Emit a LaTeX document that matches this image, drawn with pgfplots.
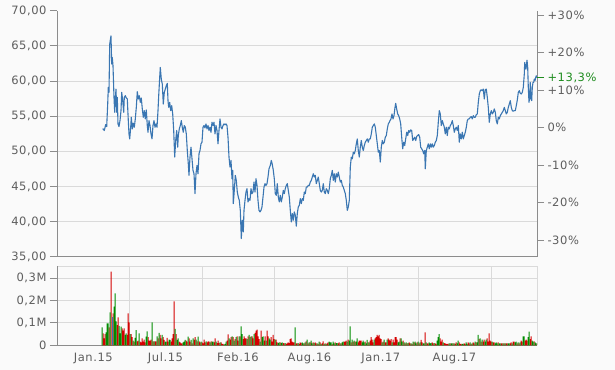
\documentclass[border=0pt]{standalone}
\usepackage{fontspec}
\setmainfont{DejaVu Sans}[LetterSpace=5.0]
\usepackage{pgfplots}
\usepackage{pgfplotstable}
\pgfplotsset{compat=1.18}
\definecolor{bg}{HTML}{FAFAFA}
\definecolor{gridc}{HTML}{DADADA}
\definecolor{axc}{HTML}{8C8C8C}
\definecolor{lab}{HTML}{5E5E5E}
\definecolor{pline}{HTML}{3A76B2}
\definecolor{vred}{HTML}{D40000}
\definecolor{vgreen}{HTML}{008C00}
\definecolor{pctgreen}{HTML}{1E8C1E}

\pgfplotstableread{
x y
102.7 53.23
104.3 52.95
105.7 53.80
106.7 53.51
107.7 56.72
108.3 59.09
109.0 58.38
109.7 65.23
110.7 66.18
111.0 66.42
111.7 62.40
112.3 63.34
113.0 62.16
114.0 57.67
114.7 55.55
115.3 57.44
116.0 58.85
116.7 55.55
117.3 57.67
118.0 53.89
119.0 53.51
120.0 54.36
121.0 55.78
121.7 58.38
122.7 57.20
123.7 55.55
124.3 57.67
125.3 57.91
126.3 57.58
127.3 57.44
128.3 54.36
129.0 52.47
129.7 51.76
130.7 53.42
131.3 54.84
132.3 53.18
133.3 53.99
134.3 53.42
135.3 54.60
136.3 56.25
137.3 58.48
138.3 57.44
139.3 57.91
140.3 56.96
141.3 57.58
142.3 56.02
143.3 54.84
144.3 55.78
145.3 54.60
146.3 55.88
147.3 53.66
148.0 52.71
149.0 54.36
150.0 53.66
151.0 52.47
152.0 51.76
153.0 53.66
154.0 54.36
155.0 53.42
156.0 53.89
157.0 53.42
158.0 55.78
158.7 57.91
159.7 60.51
160.3 61.93
161.3 60.27
162.3 59.56
163.3 56.72
164.3 58.38
165.3 58.85
166.3 59.33
167.3 59.66
168.0 57.20
168.7 56.25
169.7 56.96
170.7 55.78
171.7 56.49
172.7 55.31
173.7 52.95
174.7 49.17
175.7 51.53
176.7 52.95
177.7 50.58
178.3 52.24
179.3 53.18
180.3 53.66
181.3 54.36
182.3 53.42
183.3 52.71
184.3 53.66
185.3 53.42
186.3 52.47
187.3 50.11
188.3 48.22
189.0 46.57
190.0 49.17
191.0 50.58
192.0 48.93
193.0 47.28
194.0 46.80
195.0 43.97
196.0 46.80
197.0 47.98
198.0 46.80
199.0 49.64
200.0 50.11
201.0 51.06
202.0 51.29
203.0 53.42
204.0 53.66
205.0 53.32
206.0 53.89
207.0 53.18
208.0 53.66
209.0 52.95
210.0 53.42
211.0 52.71
212.0 54.13
213.0 53.66
214.0 54.13
215.0 52.47
216.0 53.66
217.0 52.95
218.0 51.06
219.0 52.95
220.0 54.60
221.0 53.42
222.0 53.18
223.0 53.66
224.0 53.89
225.0 53.75
226.0 53.89
227.0 53.66
228.0 52.00
229.0 49.17
230.0 47.75
231.0 48.69
232.0 46.09
232.7 47.28
233.3 42.55
234.3 44.44
235.3 46.57
236.3 45.86
237.3 44.20
238.3 43.49
239.3 43.02
240.3 41.60
241.3 37.59
242.3 40.19
243.3 38.53
244.0 41.60
245.0 43.02
246.0 44.20
247.0 44.68
248.0 42.79
249.0 43.26
250.0 43.02
251.0 44.68
252.0 43.97
253.0 44.20
254.0 45.62
255.0 44.20
256.0 46.09
257.0 45.15
258.0 43.02
259.0 41.60
260.0 41.37
261.0 41.60
262.0 42.08
263.0 43.49
264.0 44.91
265.0 45.39
266.0 45.15
267.0 45.39
268.0 46.33
269.0 47.51
270.3 47.98
271.3 48.69
272.3 48.13
273.3 47.28
274.3 46.09
275.3 43.97
276.3 43.73
277.3 45.39
278.3 43.49
279.3 42.79
280.3 43.73
281.3 42.79
282.3 43.49
283.3 44.44
284.3 43.97
285.3 44.68
286.3 45.15
287.3 45.39
288.3 44.44
289.3 43.49
290.3 41.60
291.3 39.95
292.3 41.13
293.3 40.19
294.3 41.37
295.3 40.90
296.3 39.34
297.3 41.13
298.3 42.08
299.3 42.31
300.3 43.26
301.3 42.55
302.3 43.26
303.3 43.02
304.3 44.20
305.3 43.97
306.3 44.91
307.3 44.91
308.3 45.15
309.3 45.15
310.3 45.62
311.3 45.86
312.3 46.33
313.3 46.80
314.3 46.33
315.3 46.57
316.3 45.39
317.3 45.86
318.3 46.33
319.3 45.39
320.3 44.44
321.3 44.20
322.3 44.44
323.3 45.39
324.3 44.20
325.3 43.97
326.3 44.68
327.3 44.44
328.3 43.97
329.3 44.68
330.3 46.09
331.3 46.57
332.3 47.28
333.3 45.86
334.3 46.80
335.3 45.62
336.3 46.80
337.3 46.33
338.3 47.04
339.3 46.33
340.3 45.62
341.3 45.86
342.3 45.15
343.3 44.91
344.3 44.44
345.3 43.97
346.3 43.02
347.3 41.60
348.3 42.08
349.3 43.02
350.3 47.75
351.3 49.17
352.3 48.93
353.3 49.87
354.3 49.64
355.3 50.11
356.3 51.06
357.3 51.76
358.3 50.11
359.3 49.17
360.3 50.58
361.3 51.53
362.3 50.58
363.3 50.11
364.3 50.82
365.3 51.29
366.3 51.53
367.3 51.76
368.3 51.29
369.3 51.76
370.3 51.76
371.3 52.47
372.3 53.42
373.3 53.66
374.3 53.89
375.3 53.42
376.3 52.24
377.3 51.06
378.3 49.87
379.3 50.11
380.3 48.46
381.3 50.58
382.3 51.53
383.3 51.06
384.3 51.29
385.3 52.00
386.3 52.24
387.3 53.18
388.3 53.89
389.3 54.13
390.0 54.36
391.0 54.60
392.0 55.31
393.0 54.60
394.0 55.07
395.0 56.25
395.7 56.82
396.7 56.02
397.7 55.31
398.7 55.07
399.7 54.60
400.7 53.89
401.7 52.00
402.7 50.35
403.7 51.29
404.7 50.82
405.7 51.76
406.7 52.71
407.7 52.24
408.7 52.95
409.7 52.71
410.7 53.04
411.7 52.95
412.7 51.53
413.7 51.76
414.7 52.00
415.7 51.53
416.7 52.10
417.7 52.24
418.7 52.38
419.7 52.00
420.7 50.58
421.7 50.35
422.7 50.11
423.7 49.64
424.7 50.11
425.3 47.51
426.3 50.11
427.3 50.58
428.3 51.06
429.3 50.35
430.3 51.06
431.3 50.58
432.3 51.06
433.3 50.58
434.3 50.82
435.3 51.29
436.3 51.53
437.3 52.24
438.3 54.13
439.3 55.78
440.3 55.31
441.3 53.66
442.3 54.36
443.3 53.89
444.3 53.42
445.3 52.47
446.3 53.42
447.3 52.24
448.3 53.42
449.3 53.18
450.3 53.66
451.3 53.89
452.3 54.36
453.3 53.66
454.3 52.71
455.3 53.18
456.3 53.42
457.3 52.95
458.3 53.66
459.3 51.29
460.3 52.47
461.3 51.76
462.3 52.71
463.3 51.76
464.3 52.24
465.3 52.71
466.3 53.42
467.3 54.36
468.3 54.60
469.3 54.60
470.3 54.84
471.3 54.93
472.3 54.60
473.3 55.07
474.3 54.84
475.3 54.84
476.3 55.21
477.3 55.31
478.3 56.96
479.3 58.15
480.3 58.62
481.3 58.76
482.3 58.62
483.3 58.85
484.3 57.44
485.3 58.76
486.3 58.85
487.3 57.67
488.3 56.25
489.3 54.13
490.3 55.31
491.3 55.78
492.3 55.31
493.3 55.55
494.3 56.02
495.3 55.55
496.3 54.36
497.3 53.89
498.3 54.84
499.3 54.60
500.3 55.07
501.3 55.31
502.3 55.55
503.3 55.78
504.3 56.25
505.3 55.78
506.3 55.31
507.3 55.55
508.3 56.25
509.3 56.72
510.3 57.20
511.3 56.25
512.3 55.78
513.3 55.69
514.3 55.78
515.3 55.78
516.3 56.49
517.3 57.29
518.3 58.38
519.3 58.62
520.3 58.24
521.3 58.15
522.3 58.38
523.3 59.09
524.3 60.98
524.7 62.63
525.3 62.16
526.0 61.69
527.0 62.97
527.7 61.93
528.3 59.09
529.0 56.96
529.7 57.67
530.3 59.80
531.0 57.44
531.7 57.20
532.3 59.09
533.0 59.80
533.7 59.80
534.3 60.27
535.0 60.04
535.7 60.51
536.3 60.74
537.0 60.48
}\price

\pgfplotstableread{
x r g
102 0 0.080
103 0.053 0
104 0.031 0
105 0.050 0
106 0 0.058
107 0 0.098
108 0 0.098
109 0.080 0
110 0 0.147
111 0.329 0
112 0 0
113 0.142 0
114 0 0.173
115 0 0.231
116 0 0.107
117 0.090 0
118 0.124 0
119 0 0.087
120 0 0.053
121 0 0.083
122 0.076 0
123 0.065 0
124 0.076 0
125 0 0.046
126 0 0.053
127 0.046 0
128 0.142 0
129 0.102 0
130 0 0.050
131 0.050 0
132 0.036 0
133 0 0.021
134 0.016 0
135 0 0.033
136 0 0.068
137 0.018 0
138 0.021 0
139 0 0.053
140 0.016 0
141 0.013 0
142 0.031 0
143 0.016 0
144 0.025 0
145 0.013 0
146 0 0.039
147 0 0.062
148 0.036 0
149 0.021 0
150 0.021 0
151 0.025 0
152 0 0.102
153 0.018 0
154 0 0.018
155 0.018 0
156 0.018 0
157 0 0.040
158 0.031 0
159 0 0.055
160 0.046 0
161 0.031 0
162 0 0.046
163 0.036 0
164 0.024 0
165 0 0.016
166 0 0.016
167 0.033 0
168 0.016 0
169 0 0.025
170 0 0.024
171 0.016 0
172 0.031 0
173 0.050 0
174 0.196 0
175 0 0.073
176 0.050 0
177 0 0.024
178 0 0.031
179 0.016 0
180 0.013 0
181 0.009 0
182 0.009 0
183 0 0.013
184 0 0.016
185 0 0.024
186 0.021 0
187 0.016 0
188 0 0.039
189 0.031 0
190 0.016 0
191 0 0.024
192 0.009 0
193 0 0.031
194 0.024 0
195 0.036 0
196 0 0.025
197 0.018 0
198 0 0.039
199 0.018 0
200 0.013 0
201 0 0.016
202 0.013 0
203 0.009 0
204 0.025 0
205 0.013 0
206 0 0.018
207 0.013 0
208 0.018 0
209 0.016 0
210 0 0.013
211 0.018 0
212 0 0.016
213 0 0.016
214 0.013 0
215 0.031 0
216 0 0.016
217 0.010 0
218 0.021 0
219 0.010 0
220 0 0.013
221 0.013 0
222 0.006 0
223 0.006 0
224 0 0.003
225 0 0.006
226 0 0.016
227 0.021 0
228 0.049 0
229 0 0.031
230 0.025 0
231 0.036 0
232 0 0.040
233 0.036 0
234 0 0.021
235 0.028 0
236 0 0.036
237 0.040 0
238 0.021 0
239 0 0.040
240 0.040 0
241 0 0.084
242 0 0.050
243 0.028 0
244 0.040 0
245 0.031 0
246 0.031 0
247 0 0.028
248 0.040 0
249 0 0.046
250 0.036 0
251 0 0.040
252 0.040 0
253 0.031 0
254 0 0.050
255 0.055 0
256 0.065 0
257 0.070 0
258 0.040 0
259 0.028 0
260 0 0.016
261 0.065 0
262 0 0.036
263 0 0.040
264 0.021 0
265 0.040 0
266 0 0.021
267 0.065 0
268 0.040 0
269 0 0.031
270 0 0.025
271 0.036 0
272 0.016 0
273 0.046 0
274 0.028 0
275 0 0.025
276 0.025 0
277 0.013 0
278 0 0.010
279 0 0.013
280 0.013 0
281 0 0.010
282 0 0.013
283 0.010 0
284 0.009 0
285 0 0.010
286 0.006 0
287 0.009 0
288 0.013 0
289 0.010 0
290 0.028 0
291 0.031 0
292 0.016 0
293 0.013 0
294 0.013 0
295 0 0.080
296 0.009 0
297 0.009 0
298 0 0.010
299 0.006 0
300 0.013 0
301 0.010 0
302 0 0.013
303 0 0.009
304 0.009 0
305 0 0.013
306 0.018 0
307 0 0.025
308 0.009 0
309 0 0.013
310 0.013 0
311 0 0.021
312 0 0.009
313 0.013 0
314 0 0.010
315 0.013 0
316 0.009 0
317 0 0.009
318 0.006 0
319 0 0.016
320 0.013 0
321 0 0.006
322 0.009 0
323 0.018 0
324 0 0.006
325 0.009 0
326 0 0.006
327 0.009 0
328 0.013 0
329 0 0.016
330 0 0.013
331 0 0.013
332 0.006 0
333 0 0.016
334 0 0.009
335 0.013 0
336 0 0.010
337 0 0.010
338 0.009 0
339 0.013 0
340 0 0.009
341 0.009 0
342 0 0.013
343 0 0.016
344 0.016 0
345 0.016 0
346 0.021 0
347 0 0.016
348 0.025 0
349 0 0.021
350 0 0.084
351 0.013 0
352 0 0.025
353 0.016 0
354 0 0.021
355 0.016 0
356 0 0.016
357 0 0.031
358 0.013 0
359 0.021 0
360 0.021 0
361 0.021 0
362 0 0.013
363 0 0.021
364 0 0.013
365 0.016 0
366 0 0.009
367 0 0.024
368 0.013 0
369 0 0.013
370 0.021 0
371 0.036 0
372 0.025 0
373 0.013 0
374 0 0.025
375 0.031 0
376 0.036 0
377 0.047 0
378 0.040 0
379 0.046 0
380 0.031 0
381 0.028 0
382 0 0.013
383 0.016 0
384 0 0.025
385 0.013 0
386 0.013 0
387 0 0.025
388 0.031 0
389 0.025 0
390 0.021 0
391 0.028 0
392 0 0.013
393 0.025 0
394 0.013 0
395 0.036 0
396 0.036 0
397 0.025 0
398 0 0.013
399 0 0.016
400 0.031 0
401 0 0.031
402 0 0.016
403 0.021 0
404 0 0.013
405 0.009 0
406 0 0.013
407 0.009 0
408 0 0.010
409 0.013 0
410 0.009 0
411 0 0.009
412 0.006 0
413 0 0.016
414 0.013 0
415 0 0.016
416 0 0.009
417 0.013 0
418 0 0.016
419 0.009 0
420 0 0.013
421 0.024 0
422 0.013 0
423 0 0.009
424 0 0.009
425 0.058 0
426 0 0.013
427 0.009 0
428 0.009 0
429 0 0.013
430 0 0.009
431 0 0.010
432 0.013 0
433 0.009 0
434 0 0.010
435 0.009 0
436 0.006 0
437 0 0.021
438 0 0.036
439 0 0.050
440 0.031 0
441 0.016 0
442 0.025 0
443 0 0.013
444 0.010 0
445 0.009 0
446 0.006 0
447 0.006 0
448 0.006 0
449 0 0.009
450 0.009 0
451 0 0.009
452 0 0.009
453 0.009 0
454 0 0.009
455 0.006 0
456 0.013 0
457 0 0.009
458 0 0.021
459 0.013 0
460 0.006 0
461 0.006 0
462 0 0.006
463 0 0.006
464 0.009 0
465 0.006 0
466 0 0.013
467 0 0.006
468 0.013 0
469 0.009 0
470 0 0.013
471 0.006 0
472 0 0.009
473 0.013 0
474 0.009 0
475 0 0.016
476 0.013 0
477 0 0.013
478 0 0.046
479 0.028 0
480 0 0.031
481 0.016 0
482 0 0.025
483 0.016 0
484 0.025 0
485 0 0.016
486 0 0.025
487 0.031 0
488 0.016 0
489 0.053 0
490 0.021 0
491 0.016 0
492 0 0.016
493 0.013 0
494 0.013 0
495 0 0.009
496 0 0.013
497 0 0.009
498 0.013 0
499 0 0.009
500 0 0.009
501 0.009 0
502 0.009 0
503 0 0.009
504 0.009 0
505 0 0.009
506 0.009 0
507 0.009 0
508 0 0.009
509 0 0.009
510 0.009 0
511 0.013 0
512 0 0.009
513 0.016 0
514 0.016 0
515 0 0.013
516 0 0.016
517 0.009 0
518 0 0.013
519 0.009 0
520 0 0.013
521 0.021 0
522 0.016 0
523 0 0.040
524 0 0.040
525 0.021 0
526 0.025 0
527 0.021 0
528 0 0.036
529 0 0.061
530 0.028 0
531 0.040 0
532 0 0.021
533 0 0.016
534 0.018 0
535 0 0.013
536 0 0.009
537 0.009 0
}\vol

\pgfplotsset{
  base/.style={
    scale only axis, width=480bp, xmin=57, xmax=537,
    anchor=south west,
    tick label style={font=\fontsize{11.5bp}{13bp}\selectfont, text=lab},
    /pgf/number format/assume math mode=true,
    tick align=outside, major tick length=7bp, minor tick length=0pt,
    tick style={draw=axc, line width=0.8bp},
    axis line style={draw=axc, line width=1bp},
    grid style={draw=gridc, line width=0.8bp},
    clip=true,
  }
}

\begin{document}
\begin{tikzpicture}
\fill[bg] (0,0) rectangle (615bp,370bp);
\path[use as bounding box] (0,0) rectangle (615bp,370bp);

% price panel
\begin{axis}[base, at={(57bp,113.3bp)}, height=246bp,
  ymin=35, ymax=70,
  axis x line*=bottom, axis y line*=left,
  xtick=\empty,
  minor xtick={129.3,202.3,274.3,347.7,418.3,491.7},
  xminorgrids=true,
  ytick={35,40,...,70},
  minor ytick={40,45,...,65},
  yminorgrids=true,
  yticklabel={\pgfmathprintnumber[fixed,fixed zerofill,precision=2,use comma]{\tick}},
]
\addplot[pline, line width=1.1bp, line join=round] table[x=x,y=y]{\price};
\end{axis}

% percent scale on the right
\begin{axis}[base, at={(57bp,113.3bp)}, height=246bp,
  ymin=-34.45, ymax=31.15,
  axis y line*=right, axis x line=none,
  ytick={-30,-20,...,30},
  yticklabels={-30\%,-20\%,-10\%,0\%,+10\%,+20\%,+30\%},
  extra y ticks={13.3},
  extra y tick labels={+13{,}3\%},
  extra y tick style={yticklabel style={text=pctgreen}, tick style={draw=pctgreen}},
]
\addplot[draw=none] coordinates {(57,0)};
\end{axis}

% volume panel
\begin{axis}[base, at={(57bp,24.7bp)}, height=79.3bp,
  ymin=0, ymax=0.3536,
  axis x line*=bottom, axis y line*=left,
  ytick={0,0.1,0.2,0.3},
  yticklabels={0,{0,1M},{0,2M},{0,3M}},
  minor ytick={0.1,0.2,0.3,0.3536},
  yminorgrids=true,
  xtick={93.3,165.5,238,309.5,380.8,454.5},
  xticklabels={Jan.15,Jul.15,Feb.16,Aug.16,Jan.17,Aug.17},
  xticklabel style={yshift=3bp},
  x tick style={draw=none},
  minor xtick={129.3,202.3,274.3,347.7,418.3,491.7,537},
  xminorgrids=true,
]
\addplot[ybar, bar width=1, bar shift=0pt, fill=vred, draw=none] table[x=x,y=r]{\vol};
\addplot[ybar, bar width=1, bar shift=0pt, fill=vgreen, draw=none] table[x=x,y=g]{\vol};
\addplot[ybar, bar width=1, bar shift=0pt, fill=pline, draw=none] coordinates {(112,0.124)};
\end{axis}
\end{tikzpicture}
\end{document}
